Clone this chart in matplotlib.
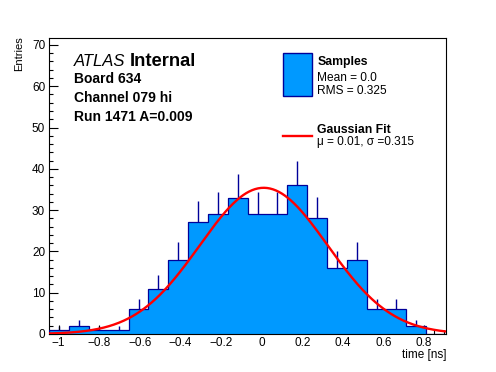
import numpy as np
import matplotlib
matplotlib.use("Agg")
import matplotlib.pyplot as plt
from matplotlib.patches import Rectangle
from matplotlib.lines import Line2D
from matplotlib.ticker import MultipleLocator

plt.rcParams['font.family'] = ['Liberation Sans', 'DejaVu Sans']

# histogram data (20 bins over the x range)
x_lo, x_hi = -1.046, 0.908
counts = [1, 2, 1, 1, 6, 11, 18, 27, 29, 33, 29, 29, 36, 28, 16, 18, 6, 6, 2, 0]

# gaussian fit
fit_amp = 35.4
fit_mu = 0.01
fit_sigma = 0.315

label_lines = ["Board 634", "Channel 079 hi", "Run 1471 A=0.009"]
stats_samples = ["Mean = 0.0", "RMS = 0.325"]
stats_fit = "\u03bc = 0.01, \u03c3 =0.315"

W, H = 496, 372
def fx(px):
    return px / W
def fy(py):
    return 1 - py / H

fig = plt.figure(figsize=(W / 100, H / 100), dpi=100)
ax = fig.add_axes([fx(49.3), fy(334), fx(446) - fx(49.3), fy(38.3) - fy(334)])

counts = np.array(counts, dtype=float)
edges = np.linspace(x_lo, x_hi, len(counts) + 1)
centers = 0.5 * (edges[:-1] + edges[1:])

# error bars (only the upper half shows above the fill)
mask = counts > 0
ax.vlines(centers[mask], counts[mask], counts[mask] + np.sqrt(counts[mask]),
          color='#000099', lw=1.0, zorder=1)
ax.stairs(counts, edges, fill=True, color='#0099ff', zorder=2)
ax.stairs(counts, edges, fill=False, color='#000099', lw=0.9, baseline=0, zorder=3)

xs = np.linspace(x_lo, x_hi, 400)
ax.plot(xs, fit_amp * np.exp(-0.5 * ((xs - fit_mu) / fit_sigma) ** 2),
        color='red', lw=1.7, zorder=4)

ax.set_xlim(x_lo, x_hi)
ax.set_ylim(0, 71.6)
ax.xaxis.set_major_locator(MultipleLocator(0.2))
ax.xaxis.set_minor_locator(MultipleLocator(0.05))
ax.yaxis.set_major_locator(MultipleLocator(10))
ax.yaxis.set_minor_locator(MultipleLocator(2))
ax.tick_params(which='both', direction='in', top=False, right=False, labelsize=8.5, width=0.8)
ax.tick_params(which='major', length=6.5, pad=3)
ax.tick_params(axis='x', which='major', pad=2.5)
ax.tick_params(which='minor', length=3.2)
ax.xaxis.set_major_formatter(plt.FuncFormatter(lambda v, p: ('%g' % round(v, 2)).replace('-', '\u2212')))
for s in ax.spines.values():
    s.set_linewidth(0.8)

fig.text(fx(446.5), fy(358), "time [ns]", ha='right', va='baseline', fontsize=8.5)
fig.text(fx(19), fy(36), "Entries", ha='center', va='top', rotation=90, fontsize=8)

# ATLAS label block
t = fig.text(fx(74), fy(66.5), "ATLAS", style='italic', fontsize=12, va='baseline')
fig.canvas.draw()
bb = t.get_window_extent()
fig.text(bb.x1 / W + fx(4), fy(66.5), "Internal", fontweight='bold', fontsize=13.2, va='baseline')
for txt, yb in zip(label_lines, [82.7, 102, 121.2]):
    fig.text(fx(74), fy(yb), txt, fontweight='bold', fontsize=10, va='baseline')

# legend
fig.patches.append(Rectangle((fx(283.3), fy(96.2)), fx(311.7) - fx(283.3), fy(53.3) - fy(96.2),
                             transform=fig.transFigure, facecolor='#0099ff', edgecolor='#000099', lw=1.0))
fig.text(fx(317.3), fy(65), "Samples", fontweight='bold', fontsize=8.8, va='baseline')
fig.text(fx(317.3), fy(81), stats_samples[0], fontsize=8.6, va='baseline')
fig.text(fx(317.3), fy(94), stats_samples[1], fontsize=8.6, va='baseline')
fig.lines.append(Line2D([fx(283.3), fx(311.7)], [fy(136), fy(136)], transform=fig.transFigure,
                        color='red', lw=1.7))
fig.text(fx(317.3), fy(132.7), "Gaussian Fit", fontweight='bold', fontsize=8.8, va='baseline')
fig.text(fx(317.3), fy(144.5), stats_fit, fontsize=8.6, va='baseline')

fig.savefig("out.png", dpi=100)
